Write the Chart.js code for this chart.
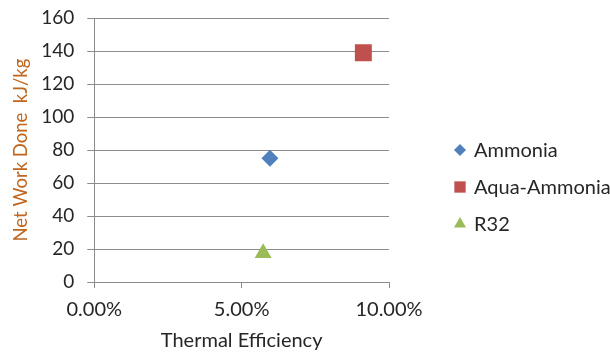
<!DOCTYPE html>
<html>
<head>
<meta charset="utf-8">
<script src="https://cdn.jsdelivr.net/npm/chart.js@4.4.1/dist/chart.umd.min.js"></script>
<style>
  html, body { margin: 0; padding: 0; background: #fff; }
  #wrap { width: 610px; height: 352px; }
</style>
</head>
<body>
<div id="wrap"><canvas id="c" width="610" height="352"></canvas></div>
<script>
// Thermal efficiency (fraction) vs net work done (kJ/kg) per working fluid
const seriesNames = ['Ammonia', 'Aqua-Ammonia', 'R32'];
const efficiency = [0.0596, 0.0913, 0.0573];
const netWork = [75, 139, 17.5];
const xTicks = [0, 0.05, 0.10];

// marker appearance per series
const markerStyles = ['rectRot', 'rect', 'triangle'];
const markerColors = ['#4F81BD', '#C0504D', '#9BBB59'];
const markerRadii = [8.5, 12, 9.8];
const legendRadii = [6, 8, 7];

const datasets = seriesNames.map((name, i) => ({
  label: name,
  data: [{ x: efficiency[i], y: netWork[i] }],
  pointStyle: markerStyles[i],
  backgroundColor: markerColors[i],
  borderColor: markerColors[i],
  borderWidth: 0,
  pointRadius: markerRadii[i],
  pointHoverRadius: markerRadii[i],
  showLine: false
}));

const FONT = 'Lato, "Open Sans", sans-serif';
const TEXT = '#262626';
const GRID = '#8C8C8C';

// Series key drawn beside the plot, vertically stacked
const sideLegend = {
  id: 'sideLegend',
  afterDraw(chart) {
    const ctx = chart.ctx;
    const area = chart.chartArea;
    const x0 = area.right + 71;
    const yStart = 150;
    const step = 37;
    ctx.save();
    ctx.font = '20px ' + FONT;
    ctx.textBaseline = 'middle';
    ctx.textAlign = 'left';
    chart.data.datasets.forEach((ds, i) => {
      const y = yStart + i * step;
      ctx.fillStyle = ds.backgroundColor;
      Chart.helpers.drawPoint(ctx, {
        pointStyle: ds.pointStyle, rotation: 0, radius: legendRadii[i], borderWidth: 0
      }, x0, y);
      ctx.fillStyle = TEXT;
      ctx.fillText(ds.label, x0 + 14, y + 1);
    });
    ctx.restore();
  }
};

new Chart(document.getElementById('c'), {
  type: 'scatter',
  data: { datasets },
  plugins: [sideLegend],
  options: {
    responsive: false,
    animation: false,
    devicePixelRatio: 1,
    layout: { padding: { left: 6, right: 221, top: 0, bottom: -1 } },
    plugins: {
      tooltip: { enabled: false },
      legend: { display: false }
    },
    scales: {
      x: {
        type: 'linear',
        min: 0,
        max: 0.10,
        afterBuildTicks(scale) { scale.ticks = xTicks.map(v => ({ value: v })); },
        ticks: {
          color: TEXT,
          font: { family: FONT, size: 20 },
          padding: 10,
          maxRotation: 0,
          callback: v => (v * 100).toFixed(2) + '%'
        },
        grid: { drawOnChartArea: false, drawTicks: true, tickLength: 6, color: GRID },
        border: { display: true, color: GRID },
        title: {
          display: true,
          text: 'Thermal Efficiency',
          color: TEXT,
          font: { family: FONT, size: 20 },
          padding: { top: -3, bottom: 0 }
        }
      },
      y: {
        min: 0,
        max: 160,
        ticks: {
          stepSize: 20,
          color: TEXT,
          font: { family: FONT, size: 19, lineHeight: 0.55 },
          padding: 13
        },
        grid: { color: GRID, tickLength: 7 },
        border: { display: true, color: GRID },
        title: {
          display: true,
          text: 'Net Work Done  kJ/kg',
          color: '#C0661E',
          font: { family: FONT, size: 18.5 },
          padding: { top: 4, bottom: -4 }
        }
      }
    }
  }
});
</script>
</body>
</html>
